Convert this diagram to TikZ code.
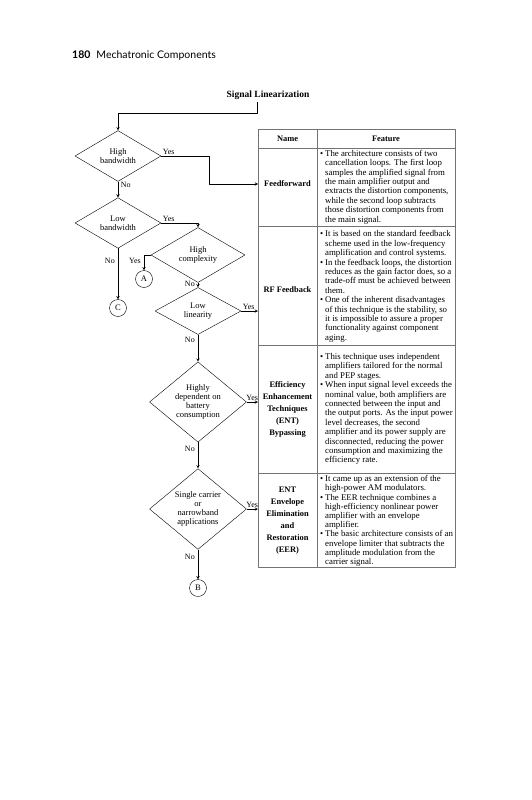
\documentclass[tikz,border=0pt]{standalone}
\usepackage{fontspec}
\setmainfont{Liberation Serif}
\newfontfamily\headfont{Lato}
\usetikzlibrary{shapes.geometric,positioning}

\newcommand{\bl}{\makebox[5pt][l]{\textbullet}}
\newcommand{\ct}{\hspace*{5pt}}

\tikzset{
  dia/.style={draw, diamond, inner sep=0pt, align=center, font=\fontsize{8.5}{9}\selectfont},
  conn/.style={draw, circle, inner sep=0pt, minimum size=17pt, font=\fontsize{8.5}{9}\selectfont},
  flow/.style={->, line width=0.5pt},
  lbl/.style={inner sep=1.5pt, font=\fontsize{8}{9}\selectfont},
  lbll/.style={lbl, left, xshift=-1.5pt},
  tab/.style={draw=black!55, line width=0.5pt},
  nm/.style={align=center, inner sep=0pt, font=\fontsize{8.4}{12}\selectfont\bfseries},
  ft/.style={anchor=west, align=left, inner sep=0pt, font=\fontsize{8.8}{9.4}\selectfont},
}

\begin{document}
\begin{tikzpicture}[x=1pt,y=-1pt,line join=round,>=stealth]
  \useasboundingbox (0,0) rectangle (531,800);
  % running head and title
  \node[anchor=west, inner sep=0pt, font=\headfont\fontsize{10.5}{12}\selectfont] (head) at (72,56) {\textbf{180}\hspace{6pt}Mechatronic Components};
  \node[font=\fontsize{9.5}{11}\selectfont\bfseries] (title) at (268,95) {Signal Linearization};
  \coordinate (s0) at (257,102);

  % decisions
  \node[dia, minimum width=86pt, minimum height=47pt] (d1) at (118,156) {High\\bandwidth};
  \node[dia, minimum width=86pt, minimum height=47pt] (d2) at (118,223) {Low\\bandwidth};
  \node[dia, minimum width=94pt, minimum height=45pt] (d3) at (198,255) {High\\complexity};
  \node[dia, minimum width=86pt, minimum height=47pt] (d4) at (198,311) {Low\\linearity};
  \node[dia, minimum width=97pt, minimum height=79pt] (d5) at (198,402) {Highly\\dependent on\\battery\\consumption};
  \node[dia, minimum width=97pt, minimum height=78pt] (d6) at (198,509) {Single carrier\\or\\narrowband\\applications};
  \node[conn] (A) at (144,279) {A};
  \node[conn] (C) at (118,308) {C};
  \node[conn] (B) at (198,588) {B};

  % table
  \draw[tab] (258,129) rectangle (455,567);
  \draw[tab] (317,129) -- (317,567);
  \foreach \y in {148,226,345,473} \draw[tab] (258,\y) -- (455,\y);
  \coordinate (tl) at (258,0);
  \node[nm] (hn) at (287.5,139) {Name};
  \node[nm] (hf) at (386,139) {Feature};
  \node[nm] (ff) at (287.5,184) {Feedforward};
  \node[nm] (rf) at (287.5,290) {RF Feedback};
  \node[nm] (byp) at (287.5,409) {Efficiency\\Enhancement\\Techniques\\(ENT)\\Bypassing};
  \node[nm] (eer) at (287.5,521) {ENT\\Envelope\\Elimination\\and\\Restoration\\(EER)};

  \node[ft] (f1) at (320,187) {\bl The architecture consists of two\\
    \ct cancellation loops. The first loop\\
    \ct samples the amplified signal from\\
    \ct the main amplifier output and\\
    \ct extracts the distortion components,\\
    \ct while the second loop subtracts\\
    \ct those distortion components from\\
    \ct the main signal.};
  \node[ft] (f2) at (320,286.5) {\bl It is based on the standard feedback\\
    \ct scheme used in the low-frequency\\
    \ct amplification and control systems.\\
    \bl In the feedback loops, the distortion\\
    \ct reduces as the gain factor does, so a\\
    \ct trade-off must be achieved between\\
    \ct them.\\
    \bl One of the inherent disadvantages\\
    \ct of this technique is the stability, so\\
    \ct it is impossible to assure a proper\\
    \ct functionality against component\\
    \ct aging.};
  \node[ft] (f3) at (320,409) {\bl This technique uses independent\\
    \ct amplifiers tailored for the normal\\
    \ct and PEP stages.\\
    \bl When input signal level exceeds the\\
    \ct nominal value, both amplifiers are\\
    \ct connected between the input and\\
    \ct the output ports. As the input power\\
    \ct level decreases, the second\\
    \ct amplifier and its power supply are\\
    \ct disconnected, reducing the power\\
    \ct consumption and maximizing the\\
    \ct efficiency rate.};
  \node[ft, font=\fontsize{8.8}{9.2}\selectfont] (f4) at (320,521) {\bl It came up as an extension of the\\
    \ct high-power AM modulators.\\
    \bl The EER technique combines a\\
    \ct high-efficiency nonlinear power\\
    \ct amplifier with an envelope\\
    \ct amplifier.\\
    \bl The basic architecture consists of an\\
    \ct envelope limiter that subtracts the\\
    \ct amplitude modulation from the\\
    \ct carrier signal.};

  % connectors
  \draw[flow] (s0) -- ++(0,11) -| (d1.north);
  \draw[flow] (d1.east) node[lbl, above right] {Yes} -- ++(48,0) |- (ff -| tl);
  \draw[flow] (d1.south) -- node[lbl, pos=0.2, right, xshift=1pt] {No} (d2.north);
  \draw[flow] (d2.east) node[lbl, above right] {Yes} -| (d3.north);
  \draw[flow] (d2.south) -- node[lbll, pos=0.25] {No} (C.north);
  \draw[flow] (d3.west) -| node[lbll, pos=0.7] {Yes} (A.north);
  \draw[flow] (d3.south) -- node[lbll, pos=0.3] {No} (d4.north);
  \draw[flow] (d4.east) node[lbl, above right] {Yes} -- (d4.east -| tl);
  \draw[flow] (d4.south) -- node[lbll, pos=0.2] {No} (d5.north);
  \draw[flow] (d5.east) node[lbl, above right, xshift=-2pt] {Yes} -- (d5.east -| tl);
  \draw[flow] (d5.south) -- node[lbll, pos=0.25] {No} (d6.north);
  \draw[flow] (d6.east) node[lbl, above right, xshift=-2pt] {Yes} -- (d6.east -| tl);
  \draw[flow] (d6.south) -- node[lbll, pos=0.25] {No} (B.north);
\end{tikzpicture}
\end{document}
